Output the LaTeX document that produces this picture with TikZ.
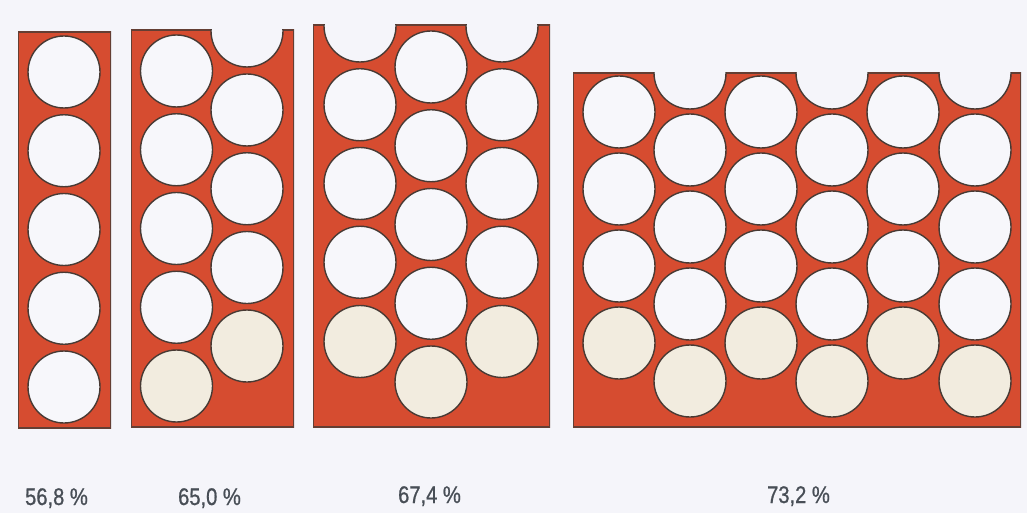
\documentclass[tikz,border=0pt]{standalone}
\usepackage{fontspec}
\setmainfont{Liberation Sans}
\newfontfamily\pctfont[FakeStretch=0.84,FakeBold=0.8]{Liberation Sans}
\definecolor{bg}{RGB}{245,245,250}
\definecolor{plate}{RGB}{214,76,48}
\definecolor{rim}{RGB}{72,58,52}
\definecolor{hole}{RGB}{247,247,251}
\definecolor{fullhole}{RGB}{242,236,223}
\definecolor{labelc}{RGB}{72,78,86}
\tikzset{
  platefill/.style={fill=plate},
  plateedge/.style={draw=rim!80!plate, line width=1.6pt},
  emptyhole/.style={fill=hole, draw=rim, line width=1.4pt},
  filledhole/.style={fill=fullhole, draw=rim, line width=1.4pt},
  notch/.style={fill=bg, draw=rim, line width=1.4pt},
  pct/.style={font=\pctfont\fontsize{24}{26}\selectfont, text=labelc, inner sep=0pt, anchor=base}
}
\begin{document}
\begin{tikzpicture}[x=1pt,y=-1pt]
\useasboundingbox (0,0) rectangle (1027,513);
\fill[bg] (0,0) rectangle (1027,513);
\def\R{36}
% ---------- panel 1
\begin{scope}
\clip (18,32) rectangle (111,428);
\fill[platefill] (18,32) rectangle (111,428);
\draw[plateedge] (18,32) rectangle (111,428);
\foreach \y in {72,150.75,229.5,308.25,387}
  \filldraw[emptyhole] (64,\y) circle (\R);
\end{scope}
% ---------- panel 2
\begin{scope}
\clip (131,30) rectangle (294,427);
\fill[platefill] (131,30) rectangle (294,427);
\draw[plateedge] (131,30) rectangle (294,427);
\foreach \y in {71,149.75,228.5,307.25}
  \filldraw[emptyhole] (176.5,\y) circle (\R);
\filldraw[filledhole] (176.5,386) circle (\R);
\filldraw[notch] (247,31) circle (\R);
\foreach \y in {110,188.75,267.5}
  \filldraw[emptyhole] (247,\y) circle (\R);
\filldraw[filledhole] (247,346) circle (\R);
\end{scope}
% ---------- panel 3
\begin{scope}
\clip (313,25) rectangle (550,427);
\fill[platefill] (313,25) rectangle (550,427);
\draw[plateedge] (313,25) rectangle (550,427);
\foreach \y in {67,145.75,224.5,303.25}
  \filldraw[emptyhole] (431,\y) circle (\R);
\filldraw[filledhole] (431,382) circle (\R);
\foreach \x in {360,502}{
  \filldraw[notch] (\x,26) circle (\R);
  \foreach \y in {104.75,183.5,262.25}
    \filldraw[emptyhole] (\x,\y) circle (\R);
  \filldraw[filledhole] (\x,341.5) circle (\R);
}
\end{scope}
% ---------- panel 4
\begin{scope}
\clip (573,73) rectangle (1021,427);
\fill[platefill] (573,73) rectangle (1021,427);
\draw[plateedge] (573,73) rectangle (1021,427);
\foreach \x in {619,761,903}{
  \foreach \y in {112,189,266}
    \filldraw[emptyhole] (\x,\y) circle (\R);
  \filldraw[filledhole] (\x,343) circle (\R);
}
\foreach \x in {690,832,975}{
  \filldraw[notch] (\x,73) circle (\R);
  \foreach \y in {150,227,304}
    \filldraw[emptyhole] (\x,\y) circle (\R);
  \filldraw[filledhole] (\x,381) circle (\R);
}
\end{scope}
% ---------- labels
\node[pct] (l1) at (56.5,505) {56,8 \%};
\node[pct] (l2) at (209.5,505) {65,0 \%};
\node[pct] (l3) at (429.5,503) {67,4 \%};
\node[pct] (l4) at (798.5,503) {73,2 \%};
\end{tikzpicture}
\end{document}
